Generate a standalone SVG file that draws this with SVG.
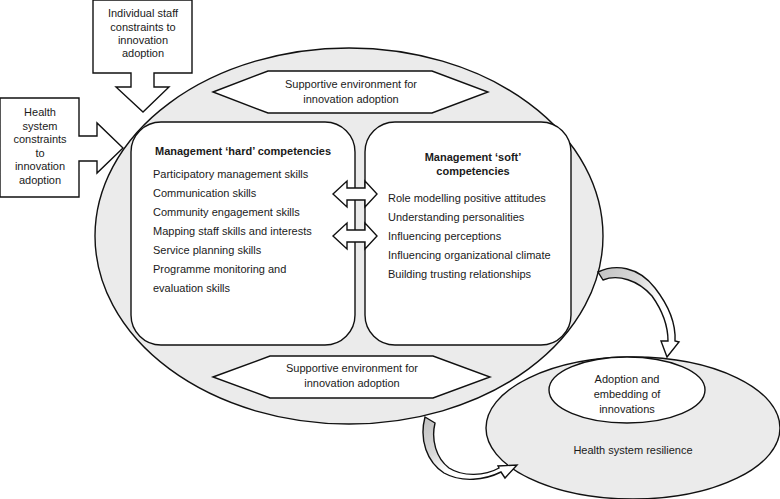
<svg xmlns="http://www.w3.org/2000/svg" width="780" height="499" viewBox="0 0 780 499">
<defs>
<style>
text{font-family:"Liberation Sans",Arial,sans-serif;font-size:11px;fill:#1a1a1a}
.c{text-anchor:middle}
.b{font-weight:bold}
.ln{stroke:#111;stroke-width:1.4;stroke-linejoin:miter}
.w{fill:#fff}
.g{fill:#ebebeb}
</style>
<linearGradient id="gr1" gradientUnits="userSpaceOnUse" x1="600" y1="275" x2="660" y2="300">
<stop offset="0" stop-color="#c4c4c4"/><stop offset="0.55" stop-color="#d8d8d8"/><stop offset="1" stop-color="#fff"/>
</linearGradient>
<linearGradient id="gr2" gradientUnits="userSpaceOnUse" x1="430" y1="420" x2="450" y2="470">
<stop offset="0" stop-color="#c4c4c4"/><stop offset="0.6" stop-color="#d8d8d8"/><stop offset="1" stop-color="#fff"/>
</linearGradient>
</defs>
<rect width="780" height="499" fill="#fff"/>

<g id="context">
<ellipse class="ln g" cx="349" cy="236" rx="254" ry="188"/>
</g>

<g id="env-top">
<polygon class="ln w" points="213,92 268,71 432,71 488,92 432,113 268,113"/>
<text class="c" x="351" y="88">Supportive environment for</text>
<text class="c" x="351" y="103">innovation adoption</text>
</g>

<g id="hard">
<rect class="ln w" x="131" y="122" width="224" height="223" rx="30" ry="30"/>
<text class="b" x="155" y="155">Management ‘hard’ competencies</text>
<text x="153" y="178">Participatory management skills</text>
<text x="153" y="197">Communication skills</text>
<text x="153" y="216">Community engagement skills</text>
<text x="153" y="235">Mapping staff skills and interests</text>
<text x="153" y="254">Service planning skills</text>
<text x="153" y="273">Programme monitoring and</text>
<text x="153" y="292">evaluation skills</text>
</g>

<g id="soft">
<rect class="ln w" x="365" y="122" width="206" height="223" rx="30" ry="30"/>
<text class="c b" x="473" y="161">Management ‘soft’</text>
<text class="c b" x="473" y="175">competencies</text>
<text x="388" y="202">Role modelling positive attitudes</text>
<text x="388" y="221">Understanding personalities</text>
<text x="388" y="240">Influencing perceptions</text>
<text x="388" y="259">Influencing organizational climate</text>
<text x="388" y="278">Building trusting relationships</text>
</g>

<g id="env-bottom">
<polygon class="ln w" points="213,377 270,356 433,356 490,377 433,398 270,398"/>
<text class="c" x="352" y="372">Supportive environment for</text>
<text class="c" x="352" y="387">innovation adoption</text>
</g>

<g id="staff">
<path class="ln w" d="M93,0 L192,0 L192,73 L154,73 L154,87 L169,87 L143,112 L116,87 L131,87 L131,73 L93,73 Z"/>
<text class="c" x="143" y="17">Individual staff</text>
<text class="c" x="143" y="31">constraints to</text>
<text class="c" x="143" y="44">innovation</text>
<text class="c" x="143" y="57">adoption</text>
</g>

<g id="system">
<path class="ln w" d="M0,98 L79,98 L79,136 L97,136 L97,123 L123,148 L97,173 L97,161 L79,161 L79,197 L0,197 Z"/>
<text class="c" x="40" y="116">Health</text>
<text class="c" x="40" y="130">system</text>
<text class="c" x="40" y="143">constraints</text>
<text class="c" x="40" y="157">to</text>
<text class="c" x="40" y="170">innovation</text>
<text class="c" x="40" y="184">adoption</text>
</g>

<g id="resilience">
<ellipse class="ln g" cx="633" cy="428" rx="147" ry="71"/>
<text class="c" x="633" y="454">Health system resilience</text>
</g>

<g id="adoption">
<ellipse class="ln w" cx="627" cy="390" rx="78" ry="33"/>
<text class="c" x="627" y="383">Adoption and</text>
<text class="c" x="627" y="398">embedding of</text>
<text class="c" x="627" y="413">innovations</text>
</g>

<g id="connectors">
<path class="ln w" d="M333,194 L347,181 L347,188 L365,188 L365,181 L377,194 L365,207 L365,200 L347,200 L347,207 Z"/>
<path class="ln w" d="M333,236 L347,223 L347,230 L365,230 L365,223 L377,236 L365,249 L365,242 L347,242 L347,249 Z"/>
<path class="ln" fill="url(#gr1)" d="M598,272 C615,264 638,266 655,288 C669,306 676,323 675,341 L679,342 L667,357 L661,341 L668,341 C668,325 662,310 652,296 C638,280 618,274 603,280 Z"/>
<path class="ln" fill="url(#gr2)" d="M425,417 C419,440 427,462 444,473 C462,483 485,480 501,472 L505,478 L517,465 L498,466 L499,468 C485,476 463,477 449,468 C436,458 431,440 435,423 Z"/>
</g>
</svg>
